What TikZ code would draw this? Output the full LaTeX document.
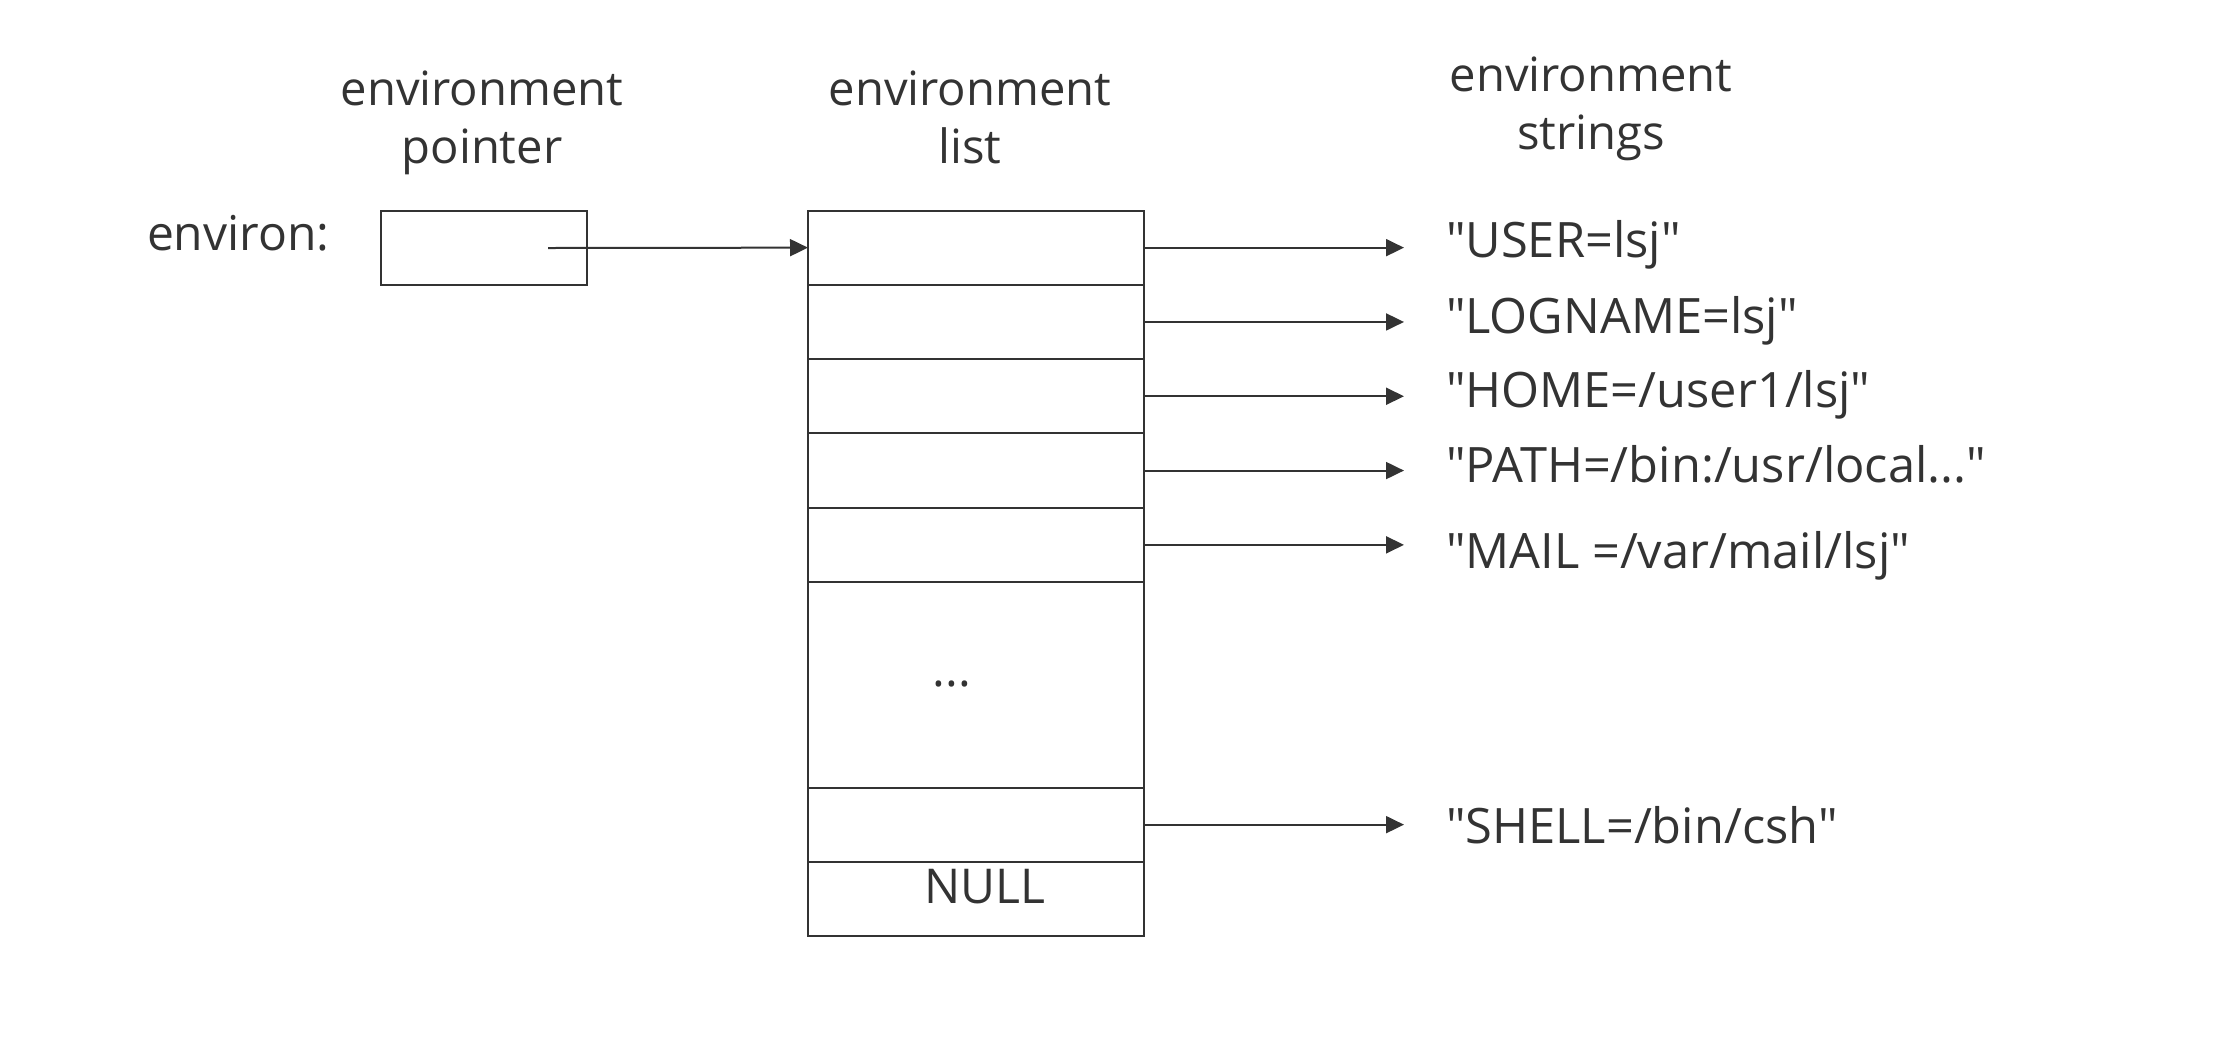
\documentclass[tikz,border=0pt]{standalone}
\usepackage{fontspec}
\setmainfont{Open Sans}[Ligatures=TeXOff]
\usetikzlibrary{arrows.meta}
\definecolor{ink}{HTML}{333333}
\begin{document}
\begin{tikzpicture}[x=0.5pt,y=-0.5pt,
  every node/.style={font=\fontsize{24pt}{29pt}\selectfont, text=ink, inner sep=0pt, outer sep=0pt},
  cell/.style={draw=ink, line width=1pt, minimum width=168pt, minimum height=37.15pt, anchor=north},
  ptrbox/.style={draw=ink, line width=1pt, minimum width=103pt, minimum height=37pt},
  arr/.style={draw=ink, line width=1pt, -{Triangle[length=9pt,width=8.5pt]}},
  lbl/.style={align=center, anchor=north, font=\fontsize{23.6pt}{29pt}\selectfont},
  str/.style={anchor=base west, font=\fontsize{24.4pt}{29pt}\selectfont}]
\useasboundingbox (0,0) rectangle (2224,1046);

% headings
\node[lbl] (lp) at (482,71) {environment\\pointer};
\node[lbl] (ll) at (970,71) {environment\\list};
\node[lbl] (ls) at (1591,57) {environment\\strings};

% pointer
\node[anchor=base west] (envlbl) at (147,250) {environ:};
\node[ptrbox] (ptr) at (484,248) {};
\coordinate (pstart) at (548,248);

% list
\node[cell] (r1) at (976,210.5) {};
\node[cell] (r2) at (976,284.8) {};
\node[cell] (r3) at (976,359.1) {};
\node[cell] (r4) at (976,433.4) {};
\node[cell] (r5) at (976,507.7) {};
\node[cell, minimum height=102.75pt] (rdots) at (976,582) {};
\node[cell] (r6) at (976,787.5) {};
\node[cell] (rnull) at (976,861.8) {};
\node (dots) at (952,684) {...};
\node[anchor=base] (nulltxt) at (984.5,903) {NULL};

\draw[arr] (pstart) -- (r1.west);

% strings
\coordinate (tipx) at (1404,0);
\node[str] (s1) at (1446,257) {"USER=lsj"};
\node[str] (s2) at (1446,333) {"LOGNAME=lsj"};
\node[str] (s3) at (1446,407) {"HOME=/user1/lsj"};
\node[str] (s4) at (1446,482) {"PATH=/bin:/usr/local..."};
\node[str] (s5) at (1446,568) {"MAIL =/var/mail/lsj"};
\node[str] (s6) at (1446,843) {"SHELL=/bin/csh"};

\draw[arr] (r1.east) -- (r1.east -| tipx);
\draw[arr] (r2.east) -- (r2.east -| tipx);
\draw[arr] (r3.east) -- (r3.east -| tipx);
\draw[arr] (r4.east) -- (r4.east -| tipx);
\draw[arr] (r5.east) -- (r5.east -| tipx);
\draw[arr] (r6.east) -- (r6.east -| tipx);
\end{tikzpicture}
\end{document}
